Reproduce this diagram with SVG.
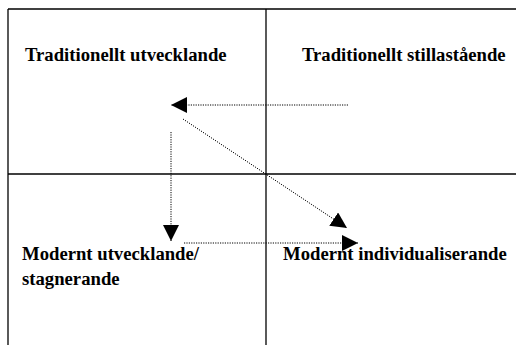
<svg xmlns="http://www.w3.org/2000/svg" width="516" height="345" viewBox="0 0 516 345">
<style>
.frame{stroke:#000;stroke-width:1.3;fill:none}
.dot{stroke:#000;stroke-width:1;stroke-dasharray:1.2,1.2;fill:none}
text{font-family:'Liberation Serif','Times New Roman',Times,serif;font-weight:700;font-size:18.7px;fill:#000}
</style>
<defs>
<marker id="ah" markerUnits="userSpaceOnUse" markerWidth="16" markerHeight="16" viewBox="0 0 14 14" refX="14" refY="7" orient="auto">
<path d="M0,0 L14,7 L0,14 Z" fill="#000"/>
</marker>
</defs>
<rect width="516" height="345" fill="#fff"/>
<g id="grid">
<line class="frame" x1="8" y1="9" x2="516" y2="9"/>
<line class="frame" x1="8" y1="9" x2="8" y2="345"/>
<line class="frame" x1="266" y1="9" x2="266" y2="345"/>
<line class="frame" x1="8" y1="174" x2="516" y2="174"/>
</g>
<g id="tl"><text x="25" y="61" font-family="Liberation Serif, serif">Traditionellt utvecklande</text></g>
<g id="tr"><text x="302" y="61" font-family="Liberation Serif, serif">Traditionellt stillastående</text></g>
<g id="bl"><text x="22" y="260" font-family="Liberation Serif, serif">Modernt utvecklande/</text><text x="22" y="285" font-family="Liberation Serif, serif">stagnerande</text></g>
<g id="br"><text x="283" y="260" font-family="Liberation Serif, serif">Modernt individualiserande</text></g>
<g id="connectors">
<line class="dot" x1="348" y1="105" x2="171" y2="105" marker-end="url(#ah)"/>
<line class="dot" x1="183" y1="119" x2="347" y2="228" marker-end="url(#ah)"/>
<line class="dot" x1="171" y1="132" x2="171" y2="241" marker-end="url(#ah)"/>
<line class="dot" x1="184" y1="243" x2="358" y2="243" marker-end="url(#ah)"/>
</g>
</svg>
